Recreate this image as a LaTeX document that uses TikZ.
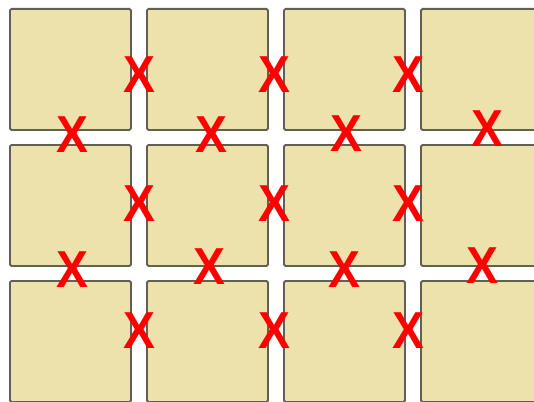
\documentclass[tikz,border=0pt]{standalone}
\usepackage{fontspec}
\setmainfont{Liberation Sans}

\definecolor{tilefill}{RGB}{238,226,172}
\definecolor{tileedge}{RGB}{98,96,86}

\tikzset{
    tile/.style={draw=tileedge, line width=1.9pt, fill=tilefill, rounded corners=1.5pt,
        minimum size=121pt, inner sep=0pt, anchor=north west},
    cross/.style={text=red, font=\bfseries\fontsize{52}{52}\selectfont, inner sep=0pt, xscale=0.92}
}

\begin{document}
\begin{tikzpicture}[x=1pt, y=-1pt]
            \useasboundingbox (0, 0) rectangle (534, 401);
            \clip (0, 0) rectangle (534, 401);
            % Tiles:
                \foreach \c [count=\i] in {9, 146, 283, 420}
                    \foreach \r [count=\j] in {8, 144, 280}
                        \node[tile] (t\j\i) at (\c, \r) {};
            % Crosses on the vertical gaps:
                \foreach \c [count=\i] in {139, 274, 408}
                    \foreach \r [count=\j] in {75, 204, 331}
                        \node[cross] (v\j\i) at (\c, \r) {X};
            % Crosses on the horizontal gaps:
                \foreach \c/\r [count=\i] in {72/135, 211/135, 346/134, 487/129}
                    \node[cross] (h1\i) at (\c, \r) {X};
                \foreach \c/\r [count=\i] in {72/270, 209/267, 344/270, 482/266}
                    \node[cross] (h2\i) at (\c, \r) {X};
            \end{tikzpicture}
\end{document}
